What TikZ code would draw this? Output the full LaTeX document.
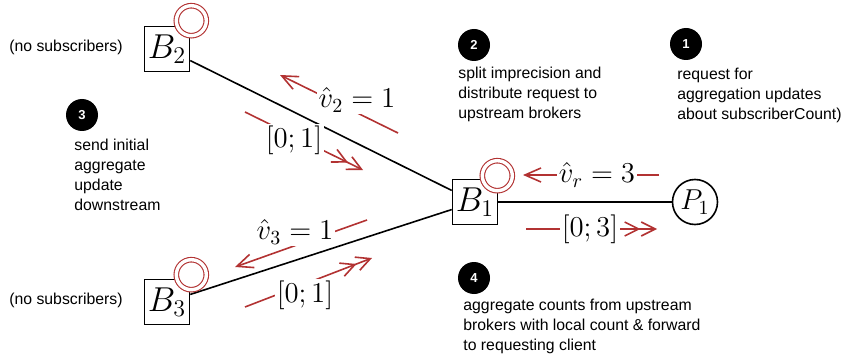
\documentclass[tikz,border=0pt]{standalone}
\usepackage{fontspec}
\setsansfont{Liberation Sans}
\usetikzlibrary{arrows.meta}
\definecolor{msgred}{RGB}{178,50,50}

\begin{document}
\begin{tikzpicture}[x=0.5pt, y=-0.5pt,
		broker/.style={draw, line width=0.8pt, fill=white, minimum size=22.5pt, inner sep=1pt, font=\fontsize{16.5}{20}\selectfont},
		client/.style={draw, circle, line width=0.8pt, fill=white, minimum size=22.5pt, inner sep=1pt, font=\Large},
		sub/.style={draw=msgred, circle, line width=0.55pt, double=white, double distance=1.7pt, fill=white, minimum size=15pt, inner sep=0pt},
		link/.style={line width=0.8pt},
		req/.style={draw=msgred, line width=0.8pt, -{Straight Barb[length=8pt, width=7pt]}},
		upd/.style={draw=msgred, line width=0.8pt, -{Straight Barb[length=7pt, width=7pt] Straight Barb[length=7pt, width=7pt]}},
		val/.style={fill=white, inner sep=1pt, font=\Large},
		badge/.style={circle, fill=black, text=white, minimum size=16pt, inner sep=0pt, font=\sffamily\bfseries\fontsize{6.5}{8}\selectfont},
		note/.style={align=left, inner sep=0pt, font=\sffamily\fontsize{7.9}{10}\selectfont}]
		\useasboundingbox (0,0) rectangle (846,358);

		\begin{scope}
			\node[broker] (b2) at (167,49) {$B_2$};
			\node[broker] (b1) at (475,202) {$B_1$};
			\node[broker] (b3) at (167,302) {$B_3$};
			\node[client] (p1) at (695,202) {$P_1$};

			\draw[link] (b2) -- (b1);
			\draw[link] (b3) -- (b1);
			\draw[link] (b1) -- (p1);

			\node[sub] (s2) at ([shift={(1,-5)}]b2.north east) {};
			\node[sub] (s1) at ([shift={(-1,-3)}]b1.north east) {};
			\node[sub] (s3) at ([shift={(1,-4)}]b3.north east) {};
		\end{scope}

		\begin{scope}
			% requests going upstream
			\coordinate (r1a) at (659,175);
			\coordinate (r1b) at (523,175);
			\draw[req] (r1a) -- (r1b);
			\node[val] (vr) at (597,175) {$\hat{v}_r = 3$};

			\coordinate (r2a) at (398,133);
			\coordinate (r2b) at (280,75);
			\draw[req] (r2a) -- (r2b);
			\node[val] (v2) at (357,100) {$\hat{v}_2 = 1$};

			\coordinate (r3a) at (367,220);
			\coordinate (r3b) at (235,267);
			\draw[req] (r3a) -- (r3b);
			\node[val] (v3) at (295,232) {$\hat{v}_3 = 1$};

			% updates going downstream
			\coordinate (u2a) at (245,112);
			\coordinate (u2b) at (363,170);
			\draw[upd] (u2a) -- (u2b);
			\node[val] (i2) at (294,140) {$[0;1]$};

			\coordinate (u3a) at (245,307);
			\coordinate (u3b) at (372,258);
			\draw[upd] (u3a) -- (u3b);
			\node[val] (i3) at (305,295) {$[0;1]$};

			\coordinate (u1a) at (526,229);
			\coordinate (u1b) at (657,229);
			\draw[upd] (u1a) -- (u1b);
			\node[val] (i1) at (590,229) {$[0;3]$};
		\end{scope}

		\begin{scope}
			\node[note, anchor=east] (ns2) at (123,47) {(no subscribers)};
			\node[note, anchor=east] (ns3) at (123,300) {(no subscribers)};

			\node[badge] (n1) at (686,44) {1};
			\node[note, anchor=north west] (t1) at (677,68) {request for\\aggregation updates\\about subscriberCount)};

			\node[badge] (n2) at (474,45) {2};
			\node[note, anchor=north west] (t2) at (458,67) {split imprecision and\\distribute request to\\upstream brokers};

			\node[badge] (n3) at (82,115) {3};
			\node[note, anchor=north west] (t3) at (74,139) {send initial\\aggregate\\update\\downstream};

			\node[badge] (n4) at (474,278) {4};
			\node[note, anchor=north west] (t4) at (463,299) {aggregate counts from upstream\\brokers with local count \& forward\\to requesting client};
		\end{scope}
	\end{tikzpicture}
\end{document}
